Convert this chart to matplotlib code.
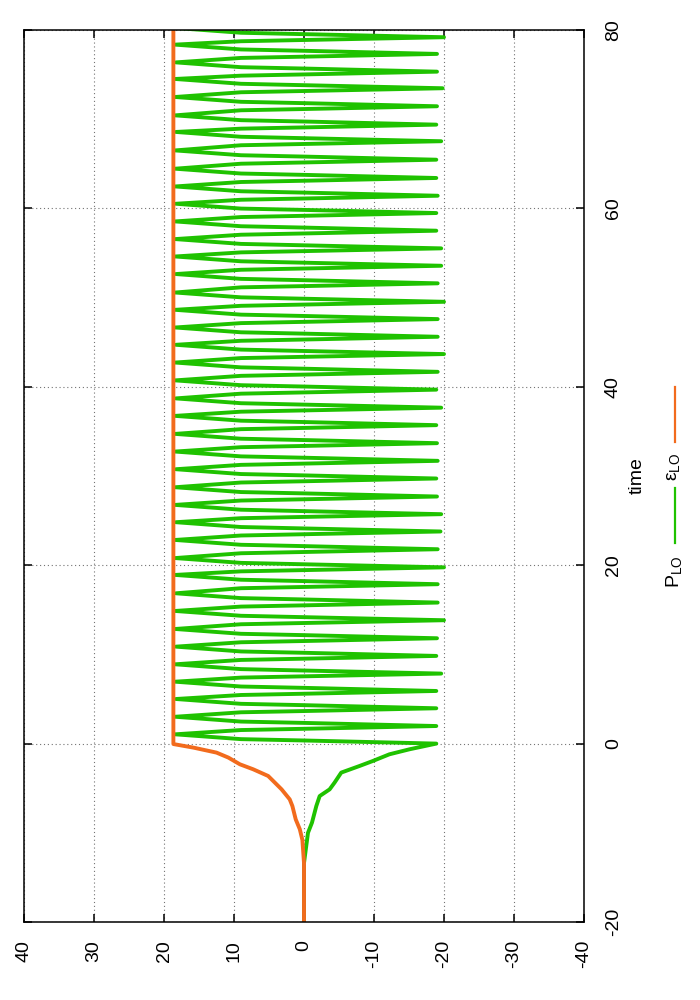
import numpy as np
import matplotlib
matplotlib.use('Agg')
import matplotlib.pyplot as plt
from matplotlib.lines import Line2D

# valores (eixo do tempo na vertical, valor na horizontal)
# parte inicial, antes do t=0
p_pre_t = [-20.0, -13.4, -10.0, -8.86, -7.0, -5.88, -5.13, -4.37, -3.25, -2.51, -1.95, -1.2, -0.64]
p_pre_v = [0.0, 0.0, -0.57, -1.14, -1.76, -2.24, -3.66, -4.37, -5.32, -7.93, -9.83, -12.2, -15.06]

e_t = [-20.0, -13.4, -10.8, -9.6, -8.5, -7.0, -6.25, -5.13, -4.37, -3.63, -2.88, -2.32, -1.57, -1.01, -0.45, -0.05, 80.0]
e_v = [0.0, 0.0, 0.23, 0.6, 1.18, 1.66, 2.04, 3.2, 4.17, 5.12, 7.26, 9.16, 10.8, 12.5, 15.8, 18.66, 18.66]

# oscilacao de P_LO: vales, picos e passagens por 0 e por +9
p_trough_t = [0.00, 1.97, 3.96, 5.90, 7.85, 9.83, 11.81, 13.83, 15.81, 17.87,
              19.76, 21.79, 23.78, 25.72, 27.70, 29.72, 31.70, 33.68, 35.70, 37.66,
              39.68, 41.68, 43.67, 45.61, 47.59, 49.53, 51.60, 53.57, 55.52, 57.50,
              59.48, 61.42, 63.41, 65.46, 67.53, 69.39, 71.45, 73.47, 75.33, 77.32, 79.19]
p_trough_v = [-18.9, -18.9, -18.9, -18.9, -19.6, -18.9, -19.0, -20.0, -19.1, -19.1,
              -20.0, -19.1, -19.5, -19.6, -19.0, -18.9, -19.1, -19.0, -18.9, -19.6,
              -18.9, -19.1, -20.0, -19.1, -19.1, -20.0, -19.1, -19.6, -19.6, -18.9,
              -18.9, -19.1, -18.9, -18.9, -19.6, -18.9, -19.0, -19.8, -19.0, -19.0, -20.0]
p_up0_t = [0.35, 2.32, 4.31, 6.25, 8.20, 10.18, 12.16, 14.18, 16.16, 18.22,
           20.11, 22.14, 24.13, 26.07, 28.05, 30.07, 32.05, 34.03, 36.05, 38.01,
           40.03, 42.03, 44.02, 45.96, 47.94, 49.88, 51.95, 53.92, 55.87, 57.85,
           59.83, 61.77, 63.76, 65.81, 67.88, 69.74, 71.80, 73.82, 75.68, 77.67, 79.54]
p_up9_t = [0.50, 2.47, 4.46, 6.40, 8.35, 10.33, 12.31, 14.33, 16.31, 18.37,
           20.26, 22.29, 24.28, 26.22, 28.20, 30.22, 32.20, 34.18, 36.20, 38.16,
           40.18, 42.18, 44.17, 46.11, 48.09, 50.03, 52.10, 54.07, 56.02, 58.00,
           59.98, 61.92, 63.91, 65.96, 68.03, 69.89, 71.95, 73.97, 75.83, 77.82, 79.69]
p_peak_t = [1.04, 3.01, 5.00, 6.94, 8.89, 10.87, 12.85, 14.87, 16.85, 18.91,
            20.80, 22.83, 24.82, 26.76, 28.74, 30.76, 32.74, 34.72, 36.74, 38.70,
            40.72, 42.72, 44.71, 46.65, 48.63, 50.57, 52.64, 54.61, 56.56, 58.54,
            60.52, 62.46, 64.45, 66.50, 68.57, 70.43, 72.49, 74.51, 76.37, 78.36, 80.23]
p_peak_v = [18.4, 18.4, 18.3, 18.4, 18.4, 18.3, 18.4, 18.4, 18.3, 18.4,
            18.4, 18.4, 18.3, 18.4, 18.4, 18.3, 18.4, 18.4, 18.4, 18.3,
            18.4, 18.4, 18.3, 18.4, 18.4, 18.4, 18.3, 18.4, 18.4, 18.4,
            18.3, 18.4, 18.4, 18.4, 18.3, 18.4, 18.4, 18.4, 18.3, 18.4, 18.4]
p_dn9_t = [1.52, 3.51, 5.45, 7.40, 9.38, 11.36, 13.38, 15.36, 17.42, 19.31,
           21.34, 23.33, 25.27, 27.25, 29.27, 31.25, 33.23, 35.25, 37.21, 39.23,
           41.23, 43.22, 45.16, 47.14, 49.08, 51.15, 53.12, 55.07, 57.05, 59.03,
           60.97, 62.96, 65.01, 67.08, 68.94, 71.00, 73.02, 74.88, 76.87, 78.74]
p_dn0_t = [1.66, 3.65, 5.59, 7.54, 9.52, 11.50, 13.52, 15.50, 17.56, 19.45,
           21.48, 23.47, 25.41, 27.39, 29.41, 31.39, 33.37, 35.39, 37.35, 39.37,
           41.37, 43.36, 45.30, 47.28, 49.22, 51.29, 53.26, 55.21, 57.19, 59.17,
           61.11, 63.10, 65.15, 67.22, 69.08, 71.14, 73.16, 75.02, 77.01, 78.88]

x_ticks = [40, 30, 20, 10, 0, -10, -20, -30, -40]
t_ticks = [-20, 0, 20, 40, 60, 80]

green = '#1fc200'
orange = '#f26b1d'

plt.rcParams['font.family'] = ['Liberation Sans', 'DejaVu Sans']
plt.rcParams['mathtext.fontset'] = 'custom'
plt.rcParams['mathtext.rm'] = 'Liberation Sans'
plt.rcParams['mathtext.it'] = 'Liberation Sans'
plt.rcParams['mathtext.default'] = 'regular'
plt.rcParams['axes.unicode_minus'] = False

# juntando os pontos da oscilacao em ordem de tempo
osc_t = p_trough_t + p_up0_t + p_up9_t + p_peak_t + p_dn9_t + p_dn0_t
osc_v = (p_trough_v + [0.0] * len(p_up0_t) + [9.0] * len(p_up9_t) + p_peak_v
         + [9.0] * len(p_dn9_t) + [0.0] * len(p_dn0_t))
ordem = np.argsort(osc_t)
p_t = np.concatenate([p_pre_t, np.array(osc_t)[ordem]])
p_v = np.concatenate([p_pre_v, np.array(osc_v)[ordem]])

fig = plt.figure(figsize=(7, 10), dpi=100)
ax = fig.add_axes([24 / 700, 78 / 1000, 560 / 700, 892 / 1000])

ax.plot(p_v, p_t, color=green, lw=2.8)
ax.plot(e_v, e_t, color=orange, lw=2.8)

ax.set_xlim(40, -40)
ax.set_ylim(-20, 80)
ax.set_xticks(x_ticks)
ax.set_yticks(t_ticks)
ax.grid(True, color='0.45', ls=(0, (1, 2.5)), lw=0.8)
ax.set_axisbelow(True)

for s in ax.spines.values():
    s.set_linewidth(1.1)

ax.yaxis.tick_right()
ax.tick_params(axis='both', direction='in', length=5.8, width=1.1, labelsize=14,
               top=True, bottom=True, left=True, right=True,
               labelleft=False, labelright=True, labeltop=False, labelbottom=True)
ax.tick_params(axis='x', labelrotation=90, pad=13)
ax.tick_params(axis='y', labelrotation=90, pad=15)
for lbl in ax.get_yticklabels():
    lbl.set_va('center')

# rotulo do eixo e legenda (rotacionados, como no original)
fig.text(637 / 700, 1 - 476 / 1000, 'time', rotation=90, ha='center', va='center', fontsize=14)
fig.text(674 / 700, 1 - 572 / 1000, '$P_{LO}$', rotation=90, ha='center', va='center', fontsize=14)
fig.text(674 / 700, 1 - 467 / 1000, '$ε_{LO}$', rotation=90, ha='center', va='center', fontsize=14)
fig.add_artist(Line2D([675 / 700, 675 / 700], [1 - 543 / 1000, 1 - 488 / 1000], color=green, lw=1.6))
fig.add_artist(Line2D([675 / 700, 675 / 700], [1 - 442 / 1000, 1 - 387 / 1000], color=orange, lw=1.6))

fig.savefig('out.png', dpi=100)
